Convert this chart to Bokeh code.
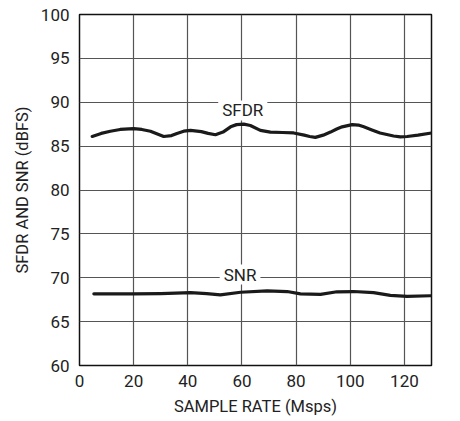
from bokeh.plotting import figure
from bokeh.models import Label, FixedTicker, Range1d
from bokeh.embed import file_html
from bokeh.resources import INLINE

# Data (sample rate in Msps, level in dBFS)
sfdr_x = [4.7, 8, 11.4, 15, 20, 23, 26.2, 29, 31.1, 34, 36, 38.5, 41, 45, 47.5, 50.2, 53, 55.8, 58, 60.7, 63.1, 66.8, 70.5, 75, 79.1, 83, 85, 87.1, 90, 92.7, 95, 97, 100.7, 103, 105, 108, 111, 116, 118.5, 121, 125, 130]
sfdr_y = [86.1, 86.45, 86.7, 86.9, 87.0, 86.9, 86.7, 86.35, 86.1, 86.2, 86.45, 86.7, 86.8, 86.65, 86.45, 86.3, 86.6, 87.2, 87.45, 87.5, 87.35, 86.8, 86.6, 86.55, 86.5, 86.25, 86.1, 86.0, 86.25, 86.6, 86.95, 87.2, 87.45, 87.4, 87.2, 86.85, 86.5, 86.15, 86.05, 86.1, 86.25, 86.5]
snr_x = [5.3, 20, 30, 41, 47, 52, 59.5, 69.3, 76.7, 81.6, 89, 95.1, 101.2, 108.6, 114.8, 121, 129.6]
snr_y = [68.17, 68.17, 68.2, 68.3, 68.2, 68.05, 68.35, 68.5, 68.43, 68.17, 68.1, 68.4, 68.43, 68.3, 68.0, 67.87, 67.95]

x_ticks = [0, 20, 40, 60, 80, 100, 120]
y_ticks = [60, 65, 70, 75, 80, 85, 90, 95, 100]
x_title = "SAMPLE RATE (Msps)"
y_title = "SFDR AND SNR (dBFS)"
labels = [("SFDR", 60.3, 89.06), ("SNR", 59.3, 70.37)]

FONT = "Roboto"

p = figure(width=460, height=421, output_backend="svg", toolbar_location=None,
           x_range=Range1d(0, 130), y_range=Range1d(60, 100))
p.min_border_left = 79
p.min_border_right = 29
p.min_border_top = 14
p.min_border_bottom = 56

p.outline_line_color = "#111111"
p.outline_line_width = 1.5

for ax in (p.xaxis[0], p.yaxis[0]):
    ax.axis_line_color = None
    ax.major_tick_line_color = None
    ax.minor_tick_line_color = None
    ax.major_tick_out = 0
    ax.major_tick_in = 0
    ax.major_label_text_font = FONT
    ax.major_label_text_font_size = "17px"
    ax.major_label_text_color = "#222222"
    ax.axis_label_text_font = FONT
    ax.axis_label_text_font_size = "16.5px"
    ax.axis_label_text_font_style = "normal"
    ax.axis_label_text_color = "#222222"

p.xaxis.ticker = FixedTicker(ticks=x_ticks)
p.yaxis.ticker = FixedTicker(ticks=y_ticks)
p.xaxis.axis_label = x_title
p.yaxis.axis_label = y_title
p.xaxis.major_label_standoff = 9
p.yaxis.major_label_standoff = 10
p.xaxis.axis_label_standoff = 7
p.yaxis.axis_label_standoff = 6

p.xgrid.ticker = FixedTicker(ticks=x_ticks)
p.ygrid.ticker = FixedTicker(ticks=y_ticks)
p.grid.grid_line_color = "#555555"
p.grid.grid_line_width = 1.2

p.line(sfdr_x, sfdr_y, line_color="#1a1a1a", line_width=3.2, line_join="round", line_cap="round")
p.line(snr_x, snr_y, line_color="#1a1a1a", line_width=3.2, line_join="round", line_cap="round")

for txt, lx, ly in labels:
    p.add_layout(Label(x=lx, y=ly, text=txt, text_align="center", text_baseline="middle",
                       text_font=FONT, text_font_size="17px", text_color="#222222",
                       background_fill_color="white", background_fill_alpha=1.0,
                       padding=dict(top=0, right=4, bottom=0, left=4)))

open("out.html", "w").write(file_html(p, INLINE))
